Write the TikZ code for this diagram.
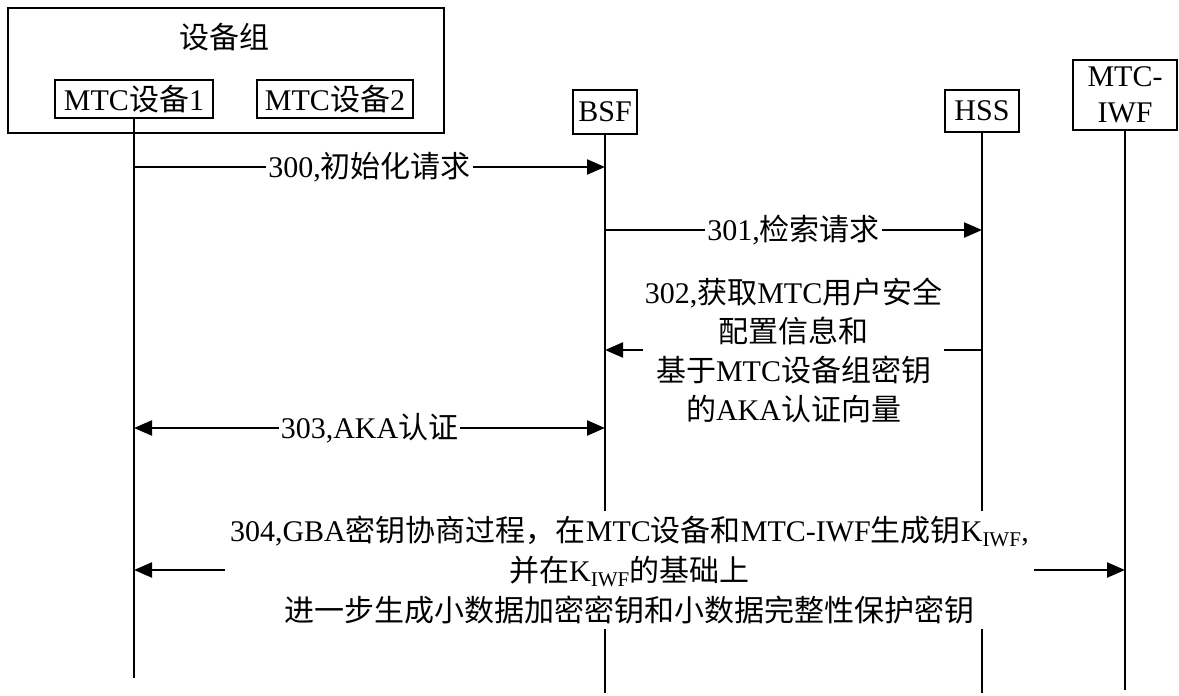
\documentclass[tikz,border=0pt]{standalone}
\usepackage{fontspec}
\setmainfont{Liberation Serif}
\newfontfamily\cjk{Noto Sans CJK SC}
\usetikzlibrary{arrows.meta}
\begin{document}
\begin{tikzpicture}[x=1pt,y=-1pt,
  every node/.style={font=\fontsize{30}{40}\selectfont},
  box/.style={draw,line width=2.3pt,inner sep=0pt,align=center},
  life/.style={line width=2.3pt},
  msg/.style={line width=2.3pt,-{Triangle[length=18pt,width=15pt]}},
  dmsg/.style={line width=2.3pt,{Triangle[length=18pt,width=15pt]}-{Triangle[length=18pt,width=15pt]}},
  lbl/.style={fill=white,inner xsep=2pt,inner ysep=4pt,align=center}]
\useasboundingbox (0,0) rectangle (1179,696);
% group box
\node[box,line width=2.6pt,minimum width=436pt,minimum height=125pt] (grp) at (226,70.5) {};
\node (grpl) at (224,37) {\cjk 设备组};
\node[box,minimum width=158pt,minimum height=38pt] (m1) at (134,99) {MTC{\cjk 设备}1};
\node[box,minimum width=156pt,minimum height=38pt] (m2) at (335,99) {MTC{\cjk 设备}2};
\node[box,minimum width=64pt,minimum height=44pt] (bsf) at (605,112) {BSF};
\node[box,minimum width=74pt,minimum height=42pt] (hss) at (982,111) {HSS};
\node[box,minimum width=104pt,minimum height=70pt,font=\fontsize{30}{36}\selectfont] (iwf) at (1125,95) {MTC-\\IWF};
% lifeline ends
\coordinate (m1e) at (134,678);
\coordinate (bsfe) at (605,693);
\coordinate (hsse) at (982,693);
\coordinate (iwfe) at (1125,690);
\draw[life] (m1.south) -- (m1e);
\draw[life] (bsf.south) -- (bsfe);
\draw[life] (hss.south) -- (hsse);
\draw[life] (iwf.south) -- (iwfe);
% message heights
\coordinate (y300) at (0,167);
\coordinate (y301) at (0,230);
\coordinate (y302) at (0,350);
\coordinate (y303) at (0,428);
\coordinate (y304) at (0,570);
\draw[msg] (m1 |- y300) -- node[lbl] (t300) {300,{\cjk 初始化请求}} (bsf |- y300);
\draw[msg] (bsf |- y301) -- node[lbl] (t301) {301,{\cjk 检索请求}} (hss |- y301);
\draw[msg] (hss |- y302) -- node[lbl,font=\fontsize{30}{39}\selectfont] (t302) {302,{\cjk 获取}MTC{\cjk 用户安全}\\{\cjk 配置信息和}\\{\cjk 基于}MTC{\cjk 设备组密钥}\\{\cjk 的}AKA{\cjk 认证向量}} (bsf |- y302);
\draw[dmsg] (m1 |- y303) -- node[lbl] (t303) {303,AKA{\cjk 认证}} (bsf |- y303);
\draw[dmsg] (m1 |- y304) -- node[lbl,inner xsep=5pt,inner ysep=5pt] (t304) {304,GBA{\cjk 密钥协商过程，在}MTC{\cjk 设备和}MTC-IWF{\cjk 生成钥}K\textsubscript{IWF},\\{\cjk 并在}K\textsubscript{IWF}{\cjk 的基础上}\\{\cjk 进一步生成小数据加密密钥和小数据完整性保护密钥}} (iwf |- y304);
\end{tikzpicture}
\end{document}
